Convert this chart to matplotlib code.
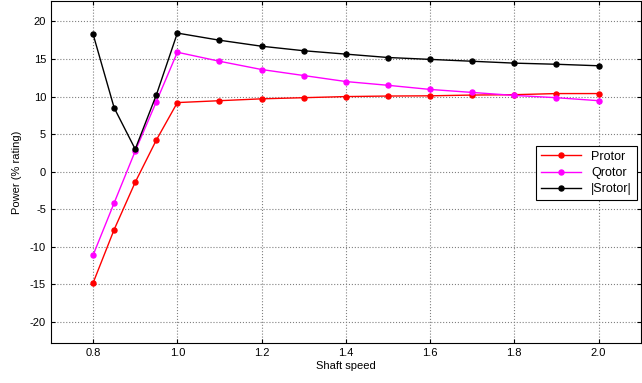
import numpy as np
import matplotlib
matplotlib.use('Agg')
import matplotlib.pyplot as plt

plt.rcParams['font.family'] = ['Liberation Sans', 'DejaVu Sans']
plt.rcParams['axes.unicode_minus'] = False

speed = [0.8, 0.85, 0.9, 0.95, 1.0, 1.1, 1.2, 1.3, 1.4, 1.5, 1.6, 1.7, 1.8, 1.9, 2.0]
p_rotor = [-14.8, -7.7, -1.4, 4.2, 9.2, 9.45, 9.7, 9.85, 10.0, 10.07, 10.1, 10.2, 10.25, 10.4, 10.4]
q_rotor = [-11.1, -4.15, 2.75, 9.3, 15.9, 14.7, 13.6, 12.8, 12.0, 11.5, 10.95, 10.55, 10.15, 9.85, 9.45]
s_rotor = [18.3, 8.5, 3.0, 10.2, 18.45, 17.5, 16.7, 16.1, 15.65, 15.2, 14.95, 14.7, 14.45, 14.3, 14.1]

xticks = [0.8, 1.0, 1.2, 1.4, 1.6, 1.8, 2.0]
yticks = [-20, -15, -10, -5, 0, 5, 10, 15, 20]

fig = plt.figure(figsize=(6.42, 3.83), dpi=100)
ax = fig.add_axes([0.0794, 0.1044, 0.9186, 0.8926])

ax.plot(speed, p_rotor, '-o', color='red', lw=1, ms=3.6, label='Protor')
ax.plot(speed, q_rotor, '-o', color='magenta', lw=1, ms=3.6, label='Qrotor')
ax.plot(speed, s_rotor, '-o', color='black', lw=1, ms=3.6, label='|Srotor|')

ax.set_xlim(0.7, 2.1)
ax.set_ylim(-22.8, 22.7)
ax.set_xticks(xticks)
ax.set_xticklabels(['%.1f' % v for v in xticks])
ax.set_yticks(yticks)
ax.tick_params(direction='in', top=True, right=True, labelsize=8, length=3)
ax.grid(True, color='#808080', linestyle=':', linewidth=0.8)

ax.set_xlabel('Shaft speed', fontsize=8, labelpad=2)
ax.set_ylabel('Power (% rating)', fontsize=8, labelpad=6)

leg = ax.legend(loc='center right', bbox_to_anchor=(1.0, 0.497), fontsize=9,
                fancybox=False, framealpha=1, edgecolor='black',
                borderaxespad=0.3, handlelength=3.2, labelspacing=0.35)
leg.get_frame().set_linewidth(0.8)

fig.savefig('out.png', dpi=100)
